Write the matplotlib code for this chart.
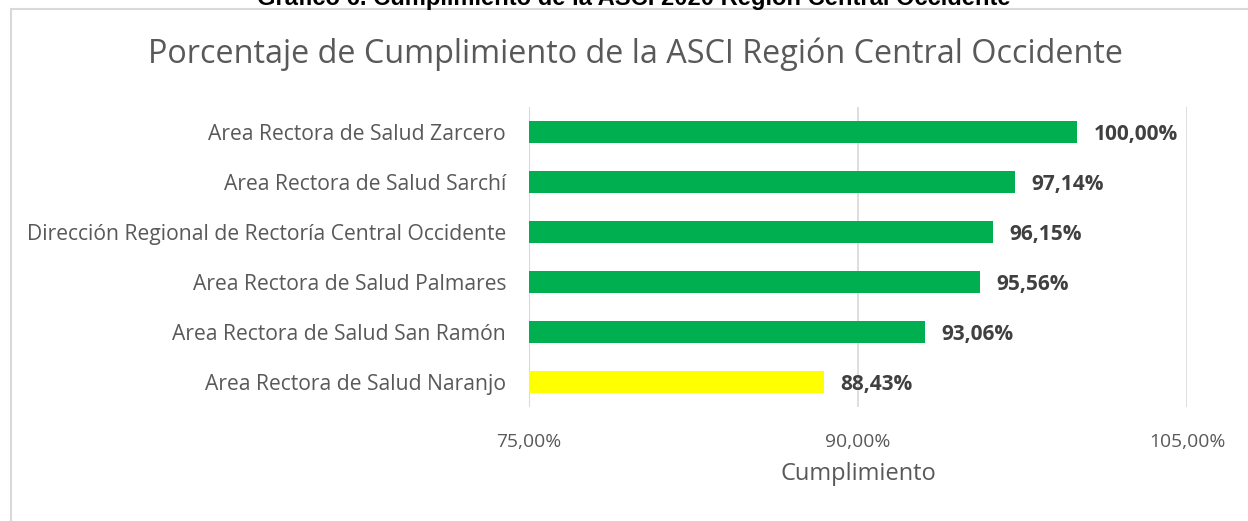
import matplotlib.pyplot as plt
from matplotlib.patches import Rectangle

plt.rcParams['font.family'] = ['Open Sans', 'DejaVu Sans']

# data (bottom to top, as drawn)
areas = ['Area Rectora de Salud Naranjo',
         'Area Rectora de Salud San Ramón',
         'Area Rectora de Salud Palmares',
         'Dirección Regional de Rectoría Central Occidente',
         'Area Rectora de Salud Sarchí',
         'Area Rectora de Salud Zarcero']
cumplimiento = [88.43, 93.06, 95.56, 96.15, 97.14, 100.00]
colores = ['#FFFF00', '#00B050', '#00B050', '#00B050', '#00B050', '#00B050']
ticks = [75, 90, 105]

W, H = 1248, 521
fig = plt.figure(figsize=(W / 100, H / 100), dpi=100)

# chart frame (cut off at right and bottom like the screenshot)
fig.patches.append(Rectangle((11 / W, -0.1), 1.2, 1 - 9 / H + 0.1,
                             transform=fig.transFigure, fill=False,
                             edgecolor='#D9D9D9', linewidth=1.5))

# document caption, mostly cut off at top
fig.text(634 / W, 1 - 5 / H, 'Gráfico 6. Cumplimiento de la ASCI 2020 Región Central Occidente',
         ha='center', va='baseline', fontsize=17.1, fontweight='bold',
         family=['Liberation Sans', 'DejaVu Sans'], color='black')

ax = fig.add_axes([529 / W, 1 - 407 / H, (1187 - 529) / W, 300 / H])
ax.barh(range(len(areas)), cumplimiento, height=0.44, color=colores, left=0)
ax.set_xlim(75, 105)
ax.set_ylim(-0.5, len(areas) - 0.5)
ax.set_xticks(ticks)
ax.set_xticklabels([f'{t:.2f}%'.replace('.', ',') for t in ticks])
ax.set_yticks(range(len(areas)))
ax.set_yticklabels(areas)
ax.tick_params(axis='y', length=0, labelsize=15.2, colors='#595959', pad=16.5)
ax.tick_params(axis='x', length=0, labelsize=13.9, colors='#595959', pad=19)
ax.xaxis.grid(True, color='#D9D9D9', linewidth=1.2)
ax.set_axisbelow(True)
for s in ax.spines.values():
    s.set_visible(False)
ax.axvline(75, color='#D9D9D9', linewidth=1.5, zorder=0)

for i, v in enumerate(cumplimiento):
    ax.annotate(f'{v:.2f}%'.replace('.', ','), (v, i), xytext=(12, -2),
                textcoords='offset points', va='center', ha='left',
                fontsize=15, fontweight='bold', color='#404040')

ax.set_xlabel('Cumplimiento', fontsize=17, color='#595959', labelpad=8)
fig.text(636 / W, 1 - 54 / H, 'Porcentaje de Cumplimiento de la ASCI Región Central Occidente',
         ha='center', va='center', fontsize=23.3, color='#595959')

fig.savefig('out.png', dpi=100, facecolor='white')
